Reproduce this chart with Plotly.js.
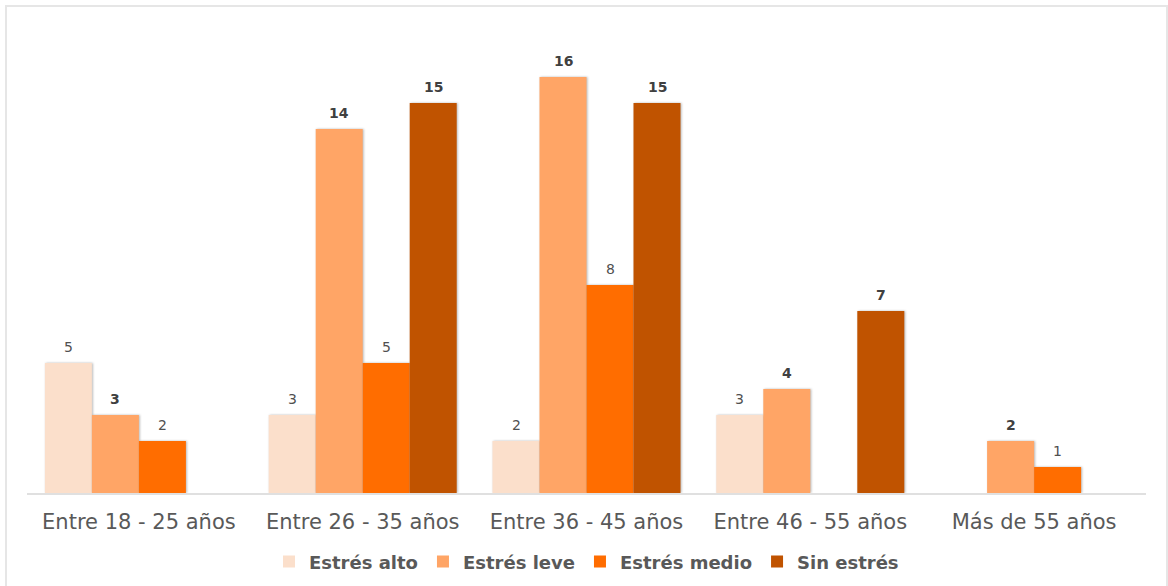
<!DOCTYPE html>
<html>
<head>
<meta charset="utf-8">
<script src="https://cdn.plot.ly/plotly-3.0.1.min.js"></script>
<style>
  html, body { margin: 0; padding: 0; background: #ffffff; }
  #wrap { position: relative; width: 1168px; height: 586px; overflow: hidden; }
  #chart { width: 1168px; height: 586px; }
  #frame {
    position: absolute; left: 5px; top: 5px; width: 1159px; height: 600px;
    border: 2px solid #e6e6e6; pointer-events: none;
  }
  .trace.bars .point path { filter: drop-shadow(1px 0px 1px rgba(0,0,0,0.28)); }
</style>
</head>
<body>
<div id="wrap">
  <div id="chart"></div>
  <div id="frame"></div>
</div>
<script>
// Age groups on the category axis
const categories = [
  "Entre 18 - 25 años",
  "Entre 26 - 35 años",
  "Entre 36 - 45 años",
  "Entre 46 - 55 años",
  "Más de 55 años"
];

// Number of people per stress level (null = no bar in that group)
const estresAlto  = [5, 3, 2, 3, null];
const estresLeve  = [3, 14, 16, 4, 2];
const estresMedio = [2, 5, 8, null, 1];
const sinEstres   = [null, 15, 15, 7, null];

const seriesNames = ["Estrés alto", "Estrés leve", "Estrés medio", "Sin estrés"];
const seriesValues = [estresAlto, estresLeve, estresMedio, sinEstres];
const seriesColors = ["#FBDFCB", "#FFA566", "#FF6D00", "#C05300"];
const labelBold = [false, true, false, true];

const BARGAP = 0.16;

const traces = seriesValues.map((vals, i) => ({
  type: "bar",
  name: seriesNames[i],
  x: categories,
  y: vals,
  marker: { color: seriesColors[i], line: { width: 0 } },
  hoverinfo: "skip"
}));

// Value labels above each bar, placed at the bar's own slot within its group
const slot = (1 - BARGAP) / seriesValues.length;
const annotations = [];
seriesValues.forEach((vals, i) => {
  vals.forEach((v, j) => {
    if (v === null) return;
    annotations.push({
      xref: "x", yref: "y",
      x: j + (i - (seriesValues.length - 1) / 2) * slot,
      y: v,
      text: labelBold[i] ? "<b>" + v + "</b>" : String(v),
      showarrow: false,
      yanchor: "bottom",
      yshift: 6,
      font: { family: "DejaVu Sans, sans-serif", size: 14, color: labelBold[i] ? "#404040" : "#505050" }
    });
  });
});

const layout = {
  width: 1168,
  height: 586,
  margin: { l: 27, r: 22, t: 25, b: 93, autoexpand: false },
  paper_bgcolor: "rgba(0,0,0,0)",
  plot_bgcolor: "#ffffff",
  barmode: "group",
  bargap: BARGAP,
  bargroupgap: 0,
  showlegend: true,
  legend: {
    orientation: "h",
    x: 0.5, xanchor: "center",
    y: -0.147, yanchor: "middle",
    font: { family: "DejaVu Sans, sans-serif", size: 18, color: "#595959", weight: "bold" },
    traceorder: "normal"
  },
  xaxis: {
    type: "category",
    showgrid: false,
    zeroline: false,
    showline: true,
    linecolor: "#e0e0e0",
    linewidth: 2,
    ticks: "",
    ticklabelstandoff: 9,
    tickfont: { family: "DejaVu Sans, sans-serif", size: 21, color: "#595959" },
    automargin: false,
    fixedrange: true
  },
  yaxis: {
    range: [0, 18],
    visible: false,
    showgrid: false,
    zeroline: false,
    fixedrange: true
  },
  annotations: annotations,
  hovermode: false
};

Plotly.newPlot("chart", traces, layout, { displayModeBar: false, staticPlot: true });
</script>
</body>
</html>
